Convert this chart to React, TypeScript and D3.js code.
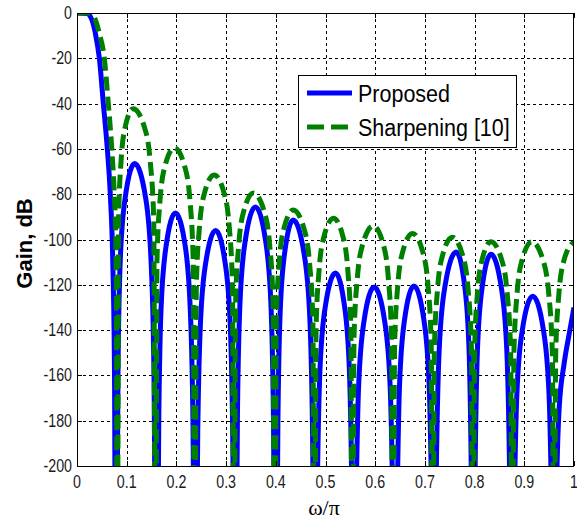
import React, { useEffect, useRef } from "react";
import * as d3 from "d3";

type Pt = [number, number];

const xTicks = [0, 0.1, 0.2, 0.3, 0.4, 0.5, 0.6, 0.7, 0.8, 0.9, 1];
const yTicks = [0, -20, -40, -60, -80, -100, -120, -140, -160, -180, -200];

// Proposed filter, magnitude in dB (nulls drawn past the floor)
const proposedGain: Pt[] = [
  [0, 0], [0.02, -0.2], [0.03, -3], [0.037, -9], [0.045, -20], [0.053, -40],
  [0.061, -60], [0.067, -80], [0.072, -110], [0.0755, -160], [0.078, -300],
  [0.0826, -156.5], [0.087, -109.5], [0.097, -81.5], [0.116, -66.5], [0.138, -81.5], [0.149, -109.5], [0.1547, -156.5],
  [0.16, -300],
  [0.1646, -178.3], [0.169, -131.3], [0.179, -103.3], [0.198, -88.3], [0.218, -103.3], [0.228, -131.3], [0.2332, -178.3],
  [0.238, -300],
  [0.2429, -186], [0.248, -139], [0.2585, -111], [0.279, -96], [0.2985, -111], [0.3086, -139], [0.3133, -186],
  [0.318, -300],
  [0.3229, -175.6], [0.3278, -128.6], [0.3385, -100.6], [0.359, -85.6], [0.3795, -100.6], [0.3902, -128.6], [0.3951, -175.6],
  [0.4, -300],
  [0.4042, -181.4], [0.4084, -134.4], [0.4175, -106.4], [0.435, -91.4], [0.457, -106.4], [0.4684, -134.4], [0.4737, -181.4],
  [0.479, -300],
  [0.4839, -204.8], [0.4888, -157.8], [0.4995, -129.8], [0.52, -114.8], [0.5385, -129.8], [0.5481, -157.8], [0.5526, -204.8],
  [0.557, -300],
  [0.5619, -211], [0.5668, -164], [0.5775, -136], [0.598, -121], [0.619, -136], [0.6299, -164], [0.635, -211],
  [0.64, -300],
  [0.6446, -210.5], [0.6491, -163.5], [0.659, -135.5], [0.678, -120.5], [0.698, -135.5], [0.7084, -163.5], [0.7132, -210.5],
  [0.718, -300],
  [0.7234, -195.5], [0.7288, -148.5], [0.7405, -120.5], [0.763, -105.5], [0.78, -120.5], [0.7888, -148.5], [0.7929, -195.5],
  [0.797, -300],
  [0.8013, -196.5], [0.8056, -149.5], [0.815, -121.5], [0.833, -106.5], [0.854, -121.5], [0.8649, -149.5], [0.87, -196.5],
  [0.875, -300],
  [0.88, -215], [0.8851, -168], [0.896, -140], [0.917, -125], [0.9385, -140], [0.9497, -168], [0.9548, -215],
  [0.96, -300],
  [0.9648, -212], [0.97, -175], [0.98, -155], [0.99, -142], [1.0, -130],
];

// Sharpening [10]
const sharpeningGain: Pt[] = [
  [0, 0], [0.025, 0], [0.035, -2], [0.045, -9], [0.055, -20], [0.063, -40],
  [0.07, -60], [0.075, -80], [0.078, -100], [0.0795, -140], [0.081, -300],
  [0.0836, -91.3], [0.0887, -65.3], [0.097, -50.3], [0.113, -42.3], [0.1355, -50.3], [0.1472, -65.3], [0.1544, -91.3],
  [0.158, -300],
  [0.161, -108.6], [0.1671, -82.6], [0.177, -67.6], [0.196, -59.6], [0.2165, -67.6], [0.2272, -82.6], [0.2337, -108.6],
  [0.237, -300],
  [0.2401, -120.5], [0.2464, -94.5], [0.2565, -79.5], [0.276, -71.5], [0.296, -79.5], [0.3064, -94.5], [0.3128, -120.5],
  [0.316, -300],
  [0.3191, -128.5], [0.3254, -102.5], [0.3355, -87.5], [0.355, -79.5], [0.3765, -87.5], [0.3877, -102.5], [0.3946, -128.5],
  [0.398, -300],
  [0.401, -136], [0.4069, -110], [0.4165, -95], [0.435, -87], [0.4565, -95], [0.4677, -110], [0.4746, -136],
  [0.478, -300],
  [0.481, -139.6], [0.4871, -113.6], [0.497, -98.6], [0.516, -90.6], [0.535, -98.6], [0.5449, -113.6], [0.551, -139.6],
  [0.554, -300],
  [0.5574, -143], [0.5641, -117], [0.575, -102], [0.596, -94], [0.616, -102], [0.6264, -117], [0.6328, -143],
  [0.636, -300],
  [0.6391, -146.3], [0.6454, -120.3], [0.6555, -105.3], [0.675, -97.3], [0.6955, -105.3], [0.7062, -120.3], [0.7127, -146.3],
  [0.716, -300],
  [0.7191, -148], [0.7254, -122], [0.7355, -107], [0.755, -99], [0.776, -107], [0.7869, -122], [0.7936, -148],
  [0.797, -300],
  [0.7999, -150], [0.8056, -124], [0.815, -109], [0.833, -101], [0.8545, -109], [0.8657, -124], [0.8726, -150],
  [0.876, -300],
  [0.8791, -150], [0.8854, -124], [0.8955, -109], [0.915, -101], [0.9375, -109], [0.9492, -124], [0.9564, -150],
  [0.96, -300],
  [0.9632, -150], [0.9696, -124], [0.98, -109], [1.0, -101],
];

const App: React.FC = () => {
  const svgRef = useRef<SVGSVGElement>(null);

  useEffect(() => {
    if (!svgRef.current) return;
    const width = 577;
    const height = 525;
    const plot = { left: 77, right: 574, top: 13, bottom: 466 };

    const svg = d3.select(svgRef.current);
    svg.selectAll("*").remove();
    svg.attr("width", width).attr("height", height);

    svg.append("rect").attr("width", width).attr("height", height).attr("fill", "#fff");

    const xScale = d3.scaleLinear().domain([0, 1]).range([plot.left, plot.right]);
    const yScale = d3.scaleLinear().domain([-200, 0]).range([plot.bottom, plot.top]);

    svg
      .append("clipPath")
      .attr("id", "plot-clip")
      .append("rect")
      .attr("x", plot.left)
      .attr("y", plot.top)
      .attr("width", plot.right - plot.left)
      .attr("height", plot.bottom - plot.top);

    // grid
    const grid = svg.append("g").attr("stroke", "#000").attr("stroke-width", 1).attr("stroke-dasharray", "3,3");
    xTicks.slice(1, -1).forEach((t) => {
      grid.append("line")
        .attr("x1", Math.round(xScale(t)) + 0.5).attr("x2", Math.round(xScale(t)) + 0.5)
        .attr("y1", plot.top).attr("y2", plot.bottom);
    });
    yTicks.slice(1, -1).forEach((t) => {
      grid.append("line")
        .attr("y1", Math.round(yScale(t)) + 0.5).attr("y2", Math.round(yScale(t)) + 0.5)
        .attr("x1", plot.left).attr("x2", plot.right);
    });

    // curves
    const line = d3
      .line<Pt>()
      .x((d) => xScale(d[0]))
      .y((d) => yScale(d[1]))
      .curve(d3.curveMonotoneX);

    const curves = svg.append("g").attr("clip-path", "url(#plot-clip)");
    curves.append("path")
      .datum(proposedGain)
      .attr("d", line)
      .attr("fill", "none")
      .attr("stroke", "#0000ff")
      .attr("stroke-width", 5)
      .attr("stroke-linejoin", "round");
    curves.append("path")
      .datum(sharpeningGain)
      .attr("d", line)
      .attr("fill", "none")
      .attr("stroke", "#008000")
      .attr("stroke-width", 5)
      .attr("stroke-dasharray", "14,6");

    // axes box and ticks
    svg.append("rect")
      .attr("x", plot.left + 0.5).attr("y", plot.top + 0.5)
      .attr("width", plot.right - plot.left - 1).attr("height", plot.bottom - plot.top)
      .attr("fill", "none").attr("stroke", "#000").attr("stroke-width", 1);

    const ticks = svg.append("g").attr("stroke", "#000").attr("stroke-width", 1);
    xTicks.forEach((t) => {
      const x = Math.round(xScale(t)) + 0.5;
      ticks.append("line").attr("x1", x).attr("x2", x).attr("y1", plot.bottom).attr("y2", plot.bottom - 5);
      ticks.append("line").attr("x1", x).attr("x2", x).attr("y1", plot.top).attr("y2", plot.top + 5);
    });
    yTicks.forEach((t) => {
      const y = Math.round(yScale(t)) + 0.5;
      ticks.append("line").attr("y1", y).attr("y2", y).attr("x1", plot.left).attr("x2", plot.left + 5);
      ticks.append("line").attr("y1", y).attr("y2", y).attr("x1", plot.right).attr("x2", plot.right - 5);
    });

    const font = "Liberation Sans, Arial, sans-serif";
    xTicks.forEach((t) => {
      svg.append("text")
        .attr("transform", `translate(${xScale(t)},${plot.bottom + 22}) scale(0.95,1.25)`)
        .attr("text-anchor", "middle")
        .attr("font-family", font)
        .attr("font-size", 15)
        .attr("fill", "#1a1a1a")
        .text(String(t));
    });
    yTicks.forEach((t) => {
      svg.append("text")
        .attr("transform", `translate(${plot.left - 5},${yScale(t) + 6}) scale(0.95,1.25)`)
        .attr("text-anchor", "end")
        .attr("font-family", font)
        .attr("font-size", 15)
        .attr("fill", "#1a1a1a")
        .text(String(t));
    });

    svg.append("text")
      .attr("transform", `translate(32,${(plot.top + plot.bottom) / 2 + 4}) rotate(-90)`)
      .attr("text-anchor", "middle")
      .attr("font-family", font)
      .attr("font-size", 22)
      .attr("font-weight", "bold")
      .attr("fill", "#000")
      .text("Gain, dB");

    svg.append("text")
      .attr("x", 324)
      .attr("y", 515)
      .attr("text-anchor", "middle")
      .attr("font-family", "Liberation Serif, Times New Roman, serif")
      .attr("font-size", 22)
      .attr("fill", "#000")
      .text("ω/π");

    // legend
    const legend = svg.append("g");
    legend.append("rect")
      .attr("x", 298.5).attr("y", 75.5).attr("width", 218).attr("height", 72)
      .attr("fill", "#fff").attr("stroke", "#000").attr("stroke-width", 1);
    legend.append("line")
      .attr("x1", 307).attr("x2", 352).attr("y1", 93).attr("y2", 93)
      .attr("stroke", "#0000ff").attr("stroke-width", 5);
    legend.append("line")
      .attr("x1", 307).attr("x2", 352).attr("y1", 127).attr("y2", 127)
      .attr("stroke", "#008000").attr("stroke-width", 5).attr("stroke-dasharray", "17,7");
    legend.append("text")
      .attr("transform", "translate(358,102) scale(1,1.15)")
      .attr("font-family", font).attr("font-size", 21.5).attr("fill", "#000")
      .text("Proposed");
    legend.append("text")
      .attr("transform", "translate(358,136) scale(1,1.15)")
      .attr("font-family", font).attr("font-size", 21.5).attr("fill", "#000")
      .text("Sharpening [10]");
  }, []);

  return <svg ref={svgRef} style={{ position: "absolute", left: 0, top: 0 }}></svg>;
};

export default App;
